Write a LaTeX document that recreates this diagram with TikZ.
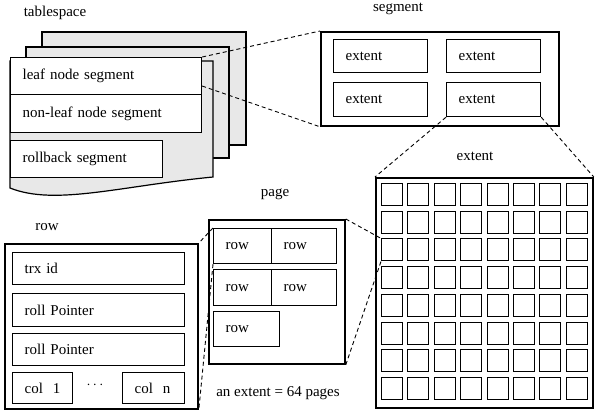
\documentclass[tikz,border=0pt]{standalone}
\usepackage{fontspec}
\setmainfont{Liberation Serif}
\usetikzlibrary{calc}

\begin{document}
\begin{tikzpicture}[x=1pt,y=-1pt,
  font=\fontsize{15}{18}\selectfont,
  box/.style 2 args={draw,line width=1.2pt,fill=white,anchor=north west,
    inner xsep=12pt,inner ysep=0pt,text width=#1,minimum height=#2,align=left},
  frame/.style 2 args={draw,line width=1.8pt,anchor=north west,inner sep=0pt,
    minimum width=#1,minimum height=#2},
  sheet/.style={draw,line width=1.2pt,fill=gray!18},
  cell/.style={draw,line width=1pt,anchor=north west,inner sep=0pt,
    minimum width=21pt,minimum height=22pt},
  zoomline/.style={line width=0.9pt,dash pattern=on 4pt off 3pt}]

\useasboundingbox (0,0) rectangle (603,413);

% tablespace
\node (tslabel) at (55,13) {tablespace};
\draw[sheet] (42,32) rectangle (246,145);
\draw[sheet] (26,47) rectangle (229,158);
\draw[sheet] (10,61) -- (213,61) -- (213,177)
  .. controls (120,186) and (55,206) .. (10,188) -- cycle;
\node[box={167pt}{37pt}] (leaf) at (10,57) {leaf node segment};
\node[box={167pt}{38pt}] (nonleaf) at (10,94) {non-leaf node segment};
\node[box={128pt}{37pt}] (rollback) at (10,140) {rollback segment};

% segment
\node (seglabel) at (398,9) {segment};
\node[frame={238pt}{94pt}] (seg) at (320,31) {};
\node[box={70pt}{33pt}] (ext1) at (333,39) {extent};
\node[box={70pt}{33pt}] (ext2) at (446,39) {extent};
\node[box={70pt}{34pt}] (ext3) at (333,82) {extent};
\node[box={70pt}{34pt}] (ext4) at (446,82) {extent};

\draw[zoomline] (leaf.north east) -- (seg.north west);
\draw[zoomline] ($(leaf.north east)!0.76!(leaf.south east)$) -- (seg.south west);

% extent
\node (extlabel) at (475,156) {extent};
\node[frame={217pt}{230pt}] (grid) at (375,177) {};
\foreach \Col in {0,...,7}{
  \foreach \Row in {0,...,7}{
    \node[cell] (c\Col\Row) at (381+26.4*\Col,183+27.7*\Row) {};
  }
}
\draw[zoomline] (ext4.south west) -- (grid.north west);
\draw[zoomline] (ext4.south east) -- (grid.north east);

% page
\node (pagelabel) at (275,194) {page};
\node[frame={136pt}{144pt}] (page) at (208,219) {};
\node[box={34pt}{35pt}] (r1) at (213,228) {row};
\node[box={41pt}{35pt}] (r2) at (271,228) {row};
\node[box={34pt}{36pt}] (r3) at (213,269) {row};
\node[box={41pt}{36pt}] (r4) at (271,269) {row};
\node[box={42pt}{35pt}] (r5) at (213,311) {row};
\node (note) at (278,393) {an extent = 64 pages};
\draw[zoomline] (page.north east) -- (c02.north west);
\draw[zoomline] (page.south east) -- (c02.south west);

% row
\node (rowlabel) at (47,227) {row};
\node[frame={193pt}{165pt}] (rowbox) at (4,243) {};
\node[box={148pt}{32pt}] (trx) at (12,252) {trx id};
\node[box={148pt}{33pt}] (roll1) at (12,293) {roll Pointer};
\node[box={148pt}{32pt}] (roll2) at (12,333) {roll Pointer};
\node[box={36pt}{31pt}] (col1) at (12,372) {col\ \ 1};
\node[box={38pt}{31pt}] (coln) at (122,372) {col\ \ n};
\node (dots) at (95,385) {$\cdots$};
\draw[zoomline] (r1.north west) -- (rowbox.north east);
\draw[zoomline] (r1.south west) -- (rowbox.south east);

\end{tikzpicture}
\end{document}
